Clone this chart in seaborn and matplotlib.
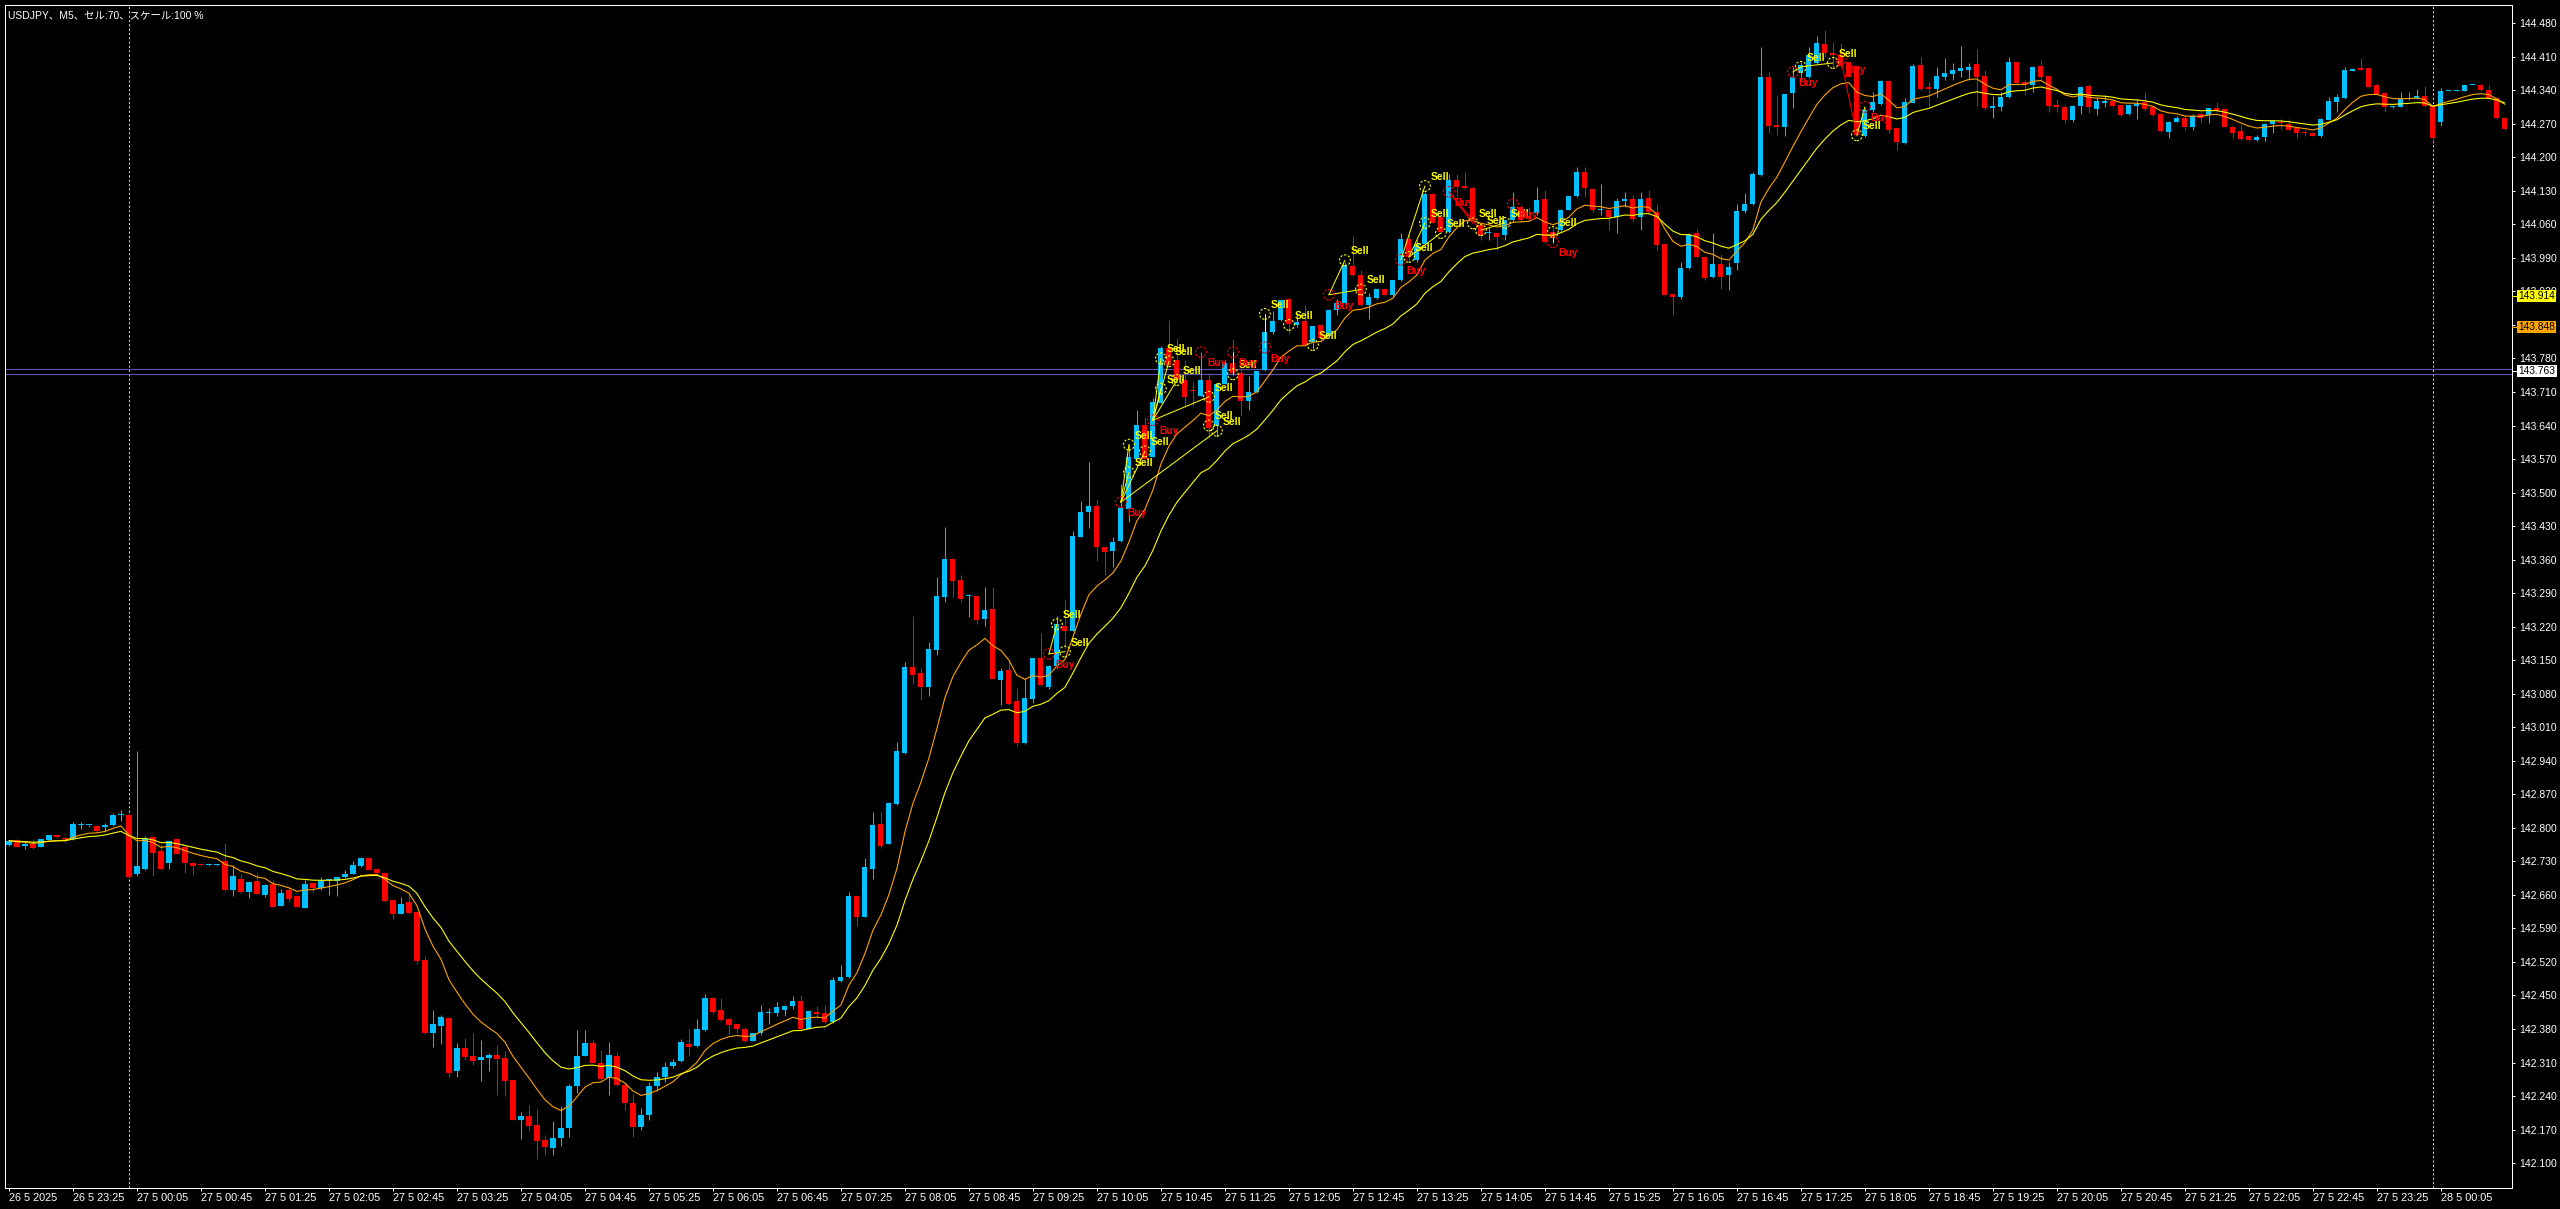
"""
USDJPY M5 candlestick chart (MT-style dark chart) with two moving averages
and Sell/Buy signal markers.
"""

import numpy as np
import pandas as pd
import matplotlib
matplotlib.use("Agg")
import matplotlib.pyplot as plt
import matplotlib.transforms as mtransforms
import seaborn as sns

sns.set_style("dark", {"axes.facecolor": "black", "figure.facecolor": "black",
                       "axes.edgecolor": "white", "text.color": "white",
                       "xtick.color": "white", "ytick.color": "white",
                       "axes.grid": False})
plt.rcParams["font.family"] = ["Liberation Sans", "Noto Sans CJK JP", "DejaVu Sans"]

# ---------------------------------------------------------------------------
# DATA  (bar 0 = 27.05 00:00, one bar = 5 minutes, first bar = 26.05 22:45)
# ---------------------------------------------------------------------------
FIRST_BAR = -15

opens = [
    142.764, 142.775, 142.762, 142.766, 142.761, 142.775, 142.785, 142.779,
    142.776, 142.806, 142.805, 142.804, 142.802, 142.805, 142.826, 142.827,
    142.703, 142.714, 142.780, 142.751, 142.727, 142.776, 142.761, 142.726,
    142.724, 142.722, 142.722, 142.731, 142.670, 142.693, 142.665, 142.688,
    142.660, 142.683, 142.637, 142.670, 142.657, 142.633, 142.684, 142.675,
    142.691, 142.688, 142.697, 142.704, 142.720, 142.736, 142.714, 142.705,
    142.649, 142.621, 142.645, 142.624, 142.524, 142.371, 142.386, 142.403,
    142.293, 142.341, 142.323, 142.316, 142.320, 142.326, 142.319, 142.273,
    142.190, 142.198, 142.180, 142.148, 142.132, 142.153, 142.174, 142.260,
    142.324, 142.350, 142.310, 142.278, 142.324, 142.263, 142.226, 142.176,
    142.200, 142.262, 142.280, 142.302, 142.313, 142.348, 142.344, 142.377,
    142.445, 142.419, 142.401, 142.390, 142.381, 142.355, 142.371, 142.413,
    142.414, 142.420, 142.429, 142.439, 142.381, 142.416, 142.414, 142.394,
    142.480, 142.488, 142.658, 142.614, 142.715, 142.807, 142.767, 142.849,
    142.956, 143.135, 143.124, 143.094, 143.171, 143.282, 143.362, 143.318,
    143.284, 143.285, 143.236, 143.257, 143.109, 143.130, 143.065, 142.977,
    143.069, 143.154, 143.094, 143.138, 143.222, 143.211, 143.408, 143.460,
    143.471, 143.386, 143.378, 143.398, 143.465, 143.571, 143.642, 143.575,
    143.687, 143.801, 143.777, 143.735, 143.715, 143.702, 143.735, 143.640,
    143.727, 143.771, 143.749, 143.692, 143.709, 143.755, 143.835, 143.860,
    143.905, 143.850, 143.858, 143.815, 143.850, 143.826, 143.882, 143.895,
    143.973, 143.954, 143.891, 143.906, 143.924, 143.912, 143.943, 144.030,
    143.985, 144.018, 144.123, 144.075, 144.044, 144.152, 144.140, 144.135,
    144.058, 144.042, 144.042, 144.037, 144.069, 144.097, 144.078, 144.083,
    144.112, 144.044, 144.048, 144.091, 144.119, 144.170, 144.133, 144.090,
    144.090, 144.076, 144.109, 144.112, 144.076, 144.116, 144.086, 144.019,
    143.914, 143.909, 143.968, 144.041, 143.992, 143.950, 143.977, 143.954,
    143.980, 144.087, 144.103, 144.163, 144.368, 144.267, 144.264, 144.335,
    144.375, 144.368, 144.396, 144.436, 144.418, 144.413, 144.399, 144.390,
    144.244, 144.298, 144.311, 144.360, 144.262, 144.229, 144.314, 144.392,
    144.347, 144.342, 144.368, 144.374, 144.380, 144.383, 144.394, 144.369,
    144.303, 144.304, 144.326, 144.399, 144.358, 144.351, 144.390, 144.369,
    144.309, 144.305, 144.277, 144.307, 144.348, 144.301, 144.314, 144.318,
    144.309, 144.290, 144.307, 144.316, 144.304, 144.290, 144.253, 144.274,
    144.282, 144.264, 144.290, 144.288, 144.302, 144.300, 144.264, 144.255,
    144.244, 144.237, 144.243, 144.269, 144.274, 144.270, 144.262, 144.253,
    144.251, 144.244, 144.278, 144.316, 144.323, 144.381, 144.387, 144.386,
    144.350, 144.335, 144.304, 144.306, 144.321, 144.323, 144.329, 144.307,
    144.274, 144.339, 144.339, 144.339, 144.351, 144.351, 144.341, 144.323, 144.283,
]

highs = [
    142.774, 142.776, 142.770, 142.776, 142.777, 142.786, 142.786, 142.782,
    142.812, 142.812, 142.806, 142.805, 142.811, 142.832, 142.837, 142.828,
    142.960, 142.783, 142.783, 142.766, 142.773, 142.777, 142.762, 142.727,
    142.725, 142.723, 142.723, 142.768, 142.723, 142.703, 142.687, 142.705,
    142.682, 142.691, 142.672, 142.678, 142.658, 142.691, 142.685, 142.697,
    142.692, 142.698, 142.712, 142.731, 142.738, 142.737, 142.715, 142.706,
    142.650, 142.655, 142.663, 142.625, 142.532, 142.420, 142.409, 142.404,
    142.350, 142.362, 142.371, 142.357, 142.330, 142.346, 142.335, 142.274,
    142.206, 142.221, 142.212, 142.158, 142.188, 142.219, 142.265, 142.378,
    142.377, 142.357, 142.336, 142.353, 142.331, 142.268, 142.245, 142.215,
    142.270, 142.290, 142.312, 142.318, 142.359, 142.379, 142.401, 142.453,
    142.446, 142.445, 142.402, 142.391, 142.385, 142.372, 142.431, 142.423,
    142.437, 142.430, 142.448, 142.450, 142.419, 142.428, 142.431, 142.488,
    142.514, 142.665, 142.659, 142.736, 142.834, 142.834, 142.854, 142.980,
    143.146, 143.242, 143.133, 143.187, 143.324, 143.429, 143.363, 143.327,
    143.289, 143.286, 143.302, 143.302, 143.133, 143.149, 143.091, 143.113,
    143.155, 143.206, 143.139, 143.242, 143.277, 143.419, 143.482, 143.564,
    143.487, 143.387, 143.408, 143.517, 143.602, 143.673, 143.657, 143.697,
    143.806, 143.861, 143.823, 143.777, 143.731, 143.793, 143.749, 143.728,
    143.777, 143.820, 143.760, 143.744, 143.754, 143.866, 143.880, 143.905,
    143.906, 143.874, 143.891, 143.848, 143.851, 143.883, 143.905, 143.982,
    144.035, 143.964, 143.916, 143.925, 143.925, 143.944, 144.041, 144.041,
    144.027, 144.128, 144.124, 144.076, 144.166, 144.166, 144.170, 144.140,
    144.062, 144.055, 144.043, 144.070, 144.128, 144.100, 144.097, 144.138,
    144.131, 144.055, 144.093, 144.120, 144.180, 144.180, 144.134, 144.145,
    144.091, 144.114, 144.128, 144.121, 144.128, 144.131, 144.103, 144.020,
    143.915, 143.982, 144.042, 144.051, 143.993, 144.041, 143.999, 143.982,
    144.103, 144.126, 144.170, 144.431, 144.378, 144.330, 144.333, 144.389,
    144.398, 144.431, 144.453, 144.466, 144.441, 144.438, 144.400, 144.391,
    144.302, 144.337, 144.361, 144.361, 144.263, 144.323, 144.395, 144.410,
    144.358, 144.389, 144.408, 144.397, 144.432, 144.397, 144.427, 144.383,
    144.328, 144.337, 144.410, 144.400, 144.361, 144.390, 144.403, 144.370,
    144.321, 144.309, 144.309, 144.347, 144.353, 144.326, 144.330, 144.319,
    144.310, 144.310, 144.321, 144.337, 144.305, 144.291, 144.275, 144.286,
    144.288, 144.291, 144.295, 144.303, 144.316, 144.301, 144.265, 144.267,
    144.245, 144.246, 144.271, 144.277, 144.279, 144.281, 144.263, 144.256,
    144.253, 144.283, 144.326, 144.333, 144.389, 144.386, 144.408, 144.387,
    144.355, 144.336, 144.308, 144.337, 144.337, 144.342, 144.349, 144.308,
    144.344, 144.340, 144.341, 144.352, 144.352, 144.353, 144.350, 144.324, 144.284,
]

lows = [
    142.763, 142.760, 142.755, 142.755, 142.760, 142.774, 142.779, 142.771,
    142.775, 142.798, 142.801, 142.792, 142.792, 142.804, 142.814, 142.697,
    142.700, 142.713, 142.700, 142.713, 142.714, 142.745, 142.705, 142.702,
    142.721, 142.721, 142.721, 142.669, 142.658, 142.664, 142.654, 142.661,
    142.655, 142.634, 142.636, 142.645, 142.634, 142.632, 142.665, 142.670,
    142.660, 142.658, 142.696, 142.703, 142.718, 142.711, 142.704, 142.645,
    142.609, 142.620, 142.621, 142.516, 142.370, 142.343, 142.349, 142.280,
    142.279, 142.316, 142.305, 142.272, 142.293, 142.242, 142.240, 142.189,
    142.150, 142.166, 142.109, 142.117, 142.117, 142.136, 142.155, 142.246,
    142.323, 142.309, 142.274, 142.242, 142.262, 142.210, 142.155, 142.170,
    142.190, 142.250, 142.270, 142.298, 142.311, 142.324, 142.343, 142.376,
    142.412, 142.397, 142.370, 142.371, 142.352, 142.354, 142.368, 142.390,
    142.408, 142.408, 142.422, 142.378, 142.380, 142.403, 142.393, 142.393,
    142.479, 142.487, 142.595, 142.613, 142.693, 142.758, 142.766, 142.848,
    142.955, 143.100, 143.067, 143.075, 143.160, 143.271, 143.282, 143.271,
    143.240, 143.225, 143.222, 143.110, 143.056, 143.057, 142.971, 142.974,
    143.061, 143.097, 143.090, 143.132, 143.176, 143.210, 143.407, 143.427,
    143.358, 143.327, 143.345, 143.397, 143.438, 143.570, 143.570, 143.574,
    143.686, 143.764, 143.733, 143.681, 143.681, 143.701, 143.613, 143.618,
    143.726, 143.744, 143.659, 143.673, 143.708, 143.754, 143.831, 143.858,
    143.832, 143.846, 143.807, 143.799, 143.815, 143.825, 143.870, 143.894,
    143.953, 143.890, 143.863, 143.905, 143.911, 143.911, 143.942, 143.982,
    143.982, 144.017, 144.062, 144.043, 144.043, 144.117, 144.134, 144.065,
    144.027, 144.027, 144.006, 144.027, 144.065, 144.065, 144.069, 144.079,
    144.022, 144.020, 144.047, 144.090, 144.118, 144.117, 144.086, 144.079,
    144.048, 144.041, 144.097, 144.065, 144.048, 144.083, 144.006, 143.911,
    143.870, 143.905, 143.967, 143.989, 143.943, 143.947, 143.926, 143.923,
    143.964, 144.083, 144.100, 144.162, 144.250, 144.246, 144.244, 144.302,
    144.360, 144.366, 144.395, 144.410, 144.389, 144.389, 144.367, 144.245,
    144.243, 144.295, 144.309, 144.250, 144.215, 144.228, 144.313, 144.341,
    144.307, 144.326, 144.361, 144.361, 144.368, 144.361, 144.307, 144.298,
    144.282, 144.296, 144.323, 144.351, 144.330, 144.337, 144.361, 144.295,
    144.295, 144.272, 144.274, 144.291, 144.293, 144.289, 144.304, 144.306,
    144.287, 144.289, 144.281, 144.298, 144.287, 144.253, 144.241, 144.273,
    144.258, 144.257, 144.272, 144.272, 144.295, 144.263, 144.241, 144.237,
    144.235, 144.235, 144.234, 144.250, 144.260, 144.257, 144.241, 144.245,
    144.244, 144.243, 144.277, 144.295, 144.322, 144.380, 144.382, 144.344,
    144.332, 144.297, 144.302, 144.305, 144.319, 144.321, 144.306, 144.234,
    144.265, 144.338, 144.338, 144.338, 144.350, 144.339, 144.322, 144.281, 144.258,
]

closes = [
    142.773, 142.761, 142.766, 142.757, 142.776, 142.785, 142.780, 142.777,
    142.808, 142.807, 142.805, 142.793, 142.806, 142.827, 142.827, 142.698,
    142.720, 142.778, 142.748, 142.714, 142.772, 142.745, 142.726, 142.720,
    142.722, 142.722, 142.722, 142.670, 142.700, 142.665, 142.686, 142.662,
    142.681, 142.635, 142.663, 142.651, 142.635, 142.683, 142.675, 142.688,
    142.691, 142.697, 142.704, 142.722, 142.736, 142.712, 142.705, 142.647,
    142.620, 142.642, 142.622, 142.521, 142.371, 142.390, 142.404, 142.289,
    142.341, 142.322, 142.314, 142.322, 142.326, 142.318, 142.271, 142.190,
    142.198, 142.178, 142.147, 142.134, 142.152, 142.174, 142.261, 142.324,
    142.350, 142.310, 142.275, 142.326, 142.263, 142.225, 142.176, 142.200,
    142.262, 142.280, 142.300, 142.312, 142.352, 142.343, 142.379, 142.445,
    142.415, 142.398, 142.388, 142.379, 142.355, 142.371, 142.415, 142.415,
    142.426, 142.429, 142.438, 142.379, 142.418, 142.412, 142.394, 142.482,
    142.488, 142.658, 142.613, 142.718, 142.805, 142.763, 142.851, 142.960,
    143.135, 143.119, 143.094, 143.173, 143.285, 143.362, 143.315, 143.277,
    143.286, 143.233, 143.255, 143.111, 143.127, 143.058, 142.977, 143.072,
    143.154, 143.098, 143.138, 143.225, 143.211, 143.409, 143.460, 143.471,
    143.386, 143.376, 143.397, 143.468, 143.575, 143.642, 143.571, 143.689,
    143.801, 143.766, 143.738, 143.700, 143.713, 143.735, 143.635, 143.727,
    143.771, 143.749, 143.692, 143.709, 143.753, 143.835, 143.859, 143.902,
    143.853, 143.856, 143.808, 143.847, 143.822, 143.882, 143.895, 143.975,
    143.954, 143.891, 143.909, 143.924, 143.912, 143.943, 144.030, 143.992,
    144.020, 144.124, 144.063, 144.044, 144.152, 144.138, 144.135, 144.069,
    144.037, 144.044, 144.034, 144.069, 144.097, 144.069, 144.071, 144.110,
    144.023, 144.034, 144.091, 144.119, 144.170, 144.135, 144.090, 144.091,
    144.076, 144.109, 144.112, 144.072, 144.112, 144.086, 144.017, 143.912,
    143.909, 143.968, 144.037, 143.992, 143.947, 143.978, 143.950, 143.971,
    144.087, 144.103, 144.166, 144.368, 144.265, 144.264, 144.332, 144.368,
    144.392, 144.413, 144.438, 144.417, 144.414, 144.390, 144.368, 144.246,
    144.298, 144.316, 144.360, 144.258, 144.232, 144.316, 144.390, 144.342,
    144.342, 144.369, 144.376, 144.383, 144.387, 144.389, 144.368, 144.303,
    144.307, 144.326, 144.399, 144.355, 144.351, 144.389, 144.368, 144.307,
    144.304, 144.277, 144.307, 144.346, 144.304, 144.317, 144.318, 144.307,
    144.288, 144.309, 144.312, 144.300, 144.288, 144.255, 144.274, 144.282,
    144.264, 144.286, 144.283, 144.302, 144.296, 144.264, 144.251, 144.239,
    144.236, 144.243, 144.270, 144.276, 144.272, 144.258, 144.250, 144.250,
    144.244, 144.281, 144.317, 144.326, 144.382, 144.384, 144.383, 144.347,
    144.333, 144.304, 144.306, 144.321, 144.324, 144.328, 144.307, 144.241,
    144.339, 144.339, 144.340, 144.351, 144.351, 144.340, 144.323, 144.282, 144.259,
]

# Sell / Buy signal points (bar, price, kind)
sig_bar = [115, 116, 117, 124, 125, 125, 127, 128, 129, 129, 130, 131, 134, 135,
           135, 136, 138, 138, 142, 142, 145, 148, 150, 152, 154, 159, 160, 162,
           162, 164, 165, 168, 169, 172, 173, 178, 178, 208, 209, 213, 214, 216, 217]
sig_price = [143.163, 143.225, 143.168, 143.480, 143.600, 143.542, 143.586, 143.651,
             143.717, 143.780, 143.774, 143.735, 143.793, 143.700, 143.640, 143.629,
             143.793, 143.747, 143.873, 143.803, 143.850, 143.808, 143.913, 143.985,
             143.924, 143.986, 143.992, 144.140, 144.063, 144.042, 144.128, 144.062,
             144.048, 144.063, 144.102, 144.044, 144.023, 144.378, 144.389, 144.397,
             144.405, 144.246, 144.305]
sig_kind = ["buy", "sell", "sell", "buy", "sell", "sell", "sell", "buy",
            "sell", "sell", "sell", "sell", "buy", "sell", "sell", "sell",
            "buy", "sell", "sell", "buy", "sell", "sell", "buy", "sell",
            "sell", "buy", "sell", "sell", "sell", "sell", "buy", "sell",
            "sell", "sell", "buy", "sell", "buy", "buy", "sell", "sell",
            "buy", "sell", "buy"]

# zigzag links between signal points (index pairs) and their colour
seg_from = [0, 0, 3, 3, 3, 3, 7, 7, 7, 7, 7, 16, 19, 22, 22, 25, 26, 26, 30, 30, 32, 35, 37, 38, 40, 41]
seg_to   = [1, 2, 4, 5, 6, 15, 8, 9, 10, 11, 13, 17, 18, 23, 24, 27, 28, 29, 31, 32, 33, 36, 38, 39, 41, 42]
seg_red  = [0, 0, 0, 0, 0, 0, 0, 0, 0, 0, 0, 0, 0, 0, 0, 0, 0, 0, 1, 1, 0, 0, 0, 0, 1, 0]

xtick_labels = ["26 5 2025", "26 5 23:25",
                "27 5 00:05", "27 5 00:45", "27 5 01:25", "27 5 02:05", "27 5 02:45",
                "27 5 03:25", "27 5 04:05", "27 5 04:45", "27 5 05:25", "27 5 06:05",
                "27 5 06:45", "27 5 07:25", "27 5 08:05", "27 5 08:45", "27 5 09:25",
                "27 5 10:05", "27 5 10:45", "27 5 11:25", "27 5 12:05", "27 5 12:45",
                "27 5 13:25", "27 5 14:05", "27 5 14:45", "27 5 15:25", "27 5 16:05",
                "27 5 16:45", "27 5 17:25", "27 5 18:05", "27 5 18:45", "27 5 19:25",
                "27 5 20:05", "27 5 20:45", "27 5 21:25", "27 5 22:05", "27 5 22:45",
                "27 5 23:25", "28 5 00:05"]

day_breaks = [0, 288]                       # 27.05 00:00 and 28.05 00:00
hlines = [143.757, 143.748]
price_tags = [143.910, 143.845, 143.753]
price_tag_text = ["143.914", "143.848", "143.763"]
price_tag_colors = ["#FFFF00", "#FFA500", "#FFFFFF"]

BLUE, RED = "#00BFFF", "#FF0000"
ORANGE, YELLOW = "#FFA500", "#FFFF00"
PX = 0.72  # one pixel in points at dpi=100

# ---------------------------------------------------------------------------
# FRAME
# ---------------------------------------------------------------------------
df = pd.DataFrame({"o": opens, "h": highs, "l": lows, "c": closes})
df["bar"] = np.arange(FIRST_BAR, FIRST_BAR + len(df))
df["up"] = df.c >= df.o
df["ma_fast"] = df.c.ewm(span=10, adjust=False).mean()
df["ma_slow"] = df.c.ewm(span=20, adjust=False).mean()

sig = pd.DataFrame({"bar": sig_bar, "price": sig_price, "kind": sig_kind})

fig = plt.figure(figsize=(25.6, 12.09), dpi=100)
ax = fig.add_axes([5 / 2560, 1 - 1188 / 1209, 2507 / 2560, 1183 / 1209])
ax.set_facecolor("black")

# candles
for up, color in [(True, BLUE), (False, RED)]:
    d = df[df.up == up]
    ax.vlines(d.bar, d.l, d.h, color=color, lw=PX, zorder=2)
    body = (d.c - d.o).abs().clip(lower=0.0021)
    ax.bar(d.bar, body, bottom=d[["o", "c"]].min(axis=1), width=0.64,
           color=color, lw=0, zorder=3)

# moving averages
sns.lineplot(data=df, x="bar", y="ma_fast", color=ORANGE, lw=PX * 1.1, ax=ax, zorder=4)
sns.lineplot(data=df, x="bar", y="ma_slow", color=YELLOW, lw=PX * 1.1, ax=ax, zorder=4)

# day separators + horizontal levels
for b in day_breaks:
    ax.axvline(b, color="#D0D0D0", lw=PX, dashes=(3 * PX, 3 * PX), zorder=1)
for h in hlines:
    ax.axhline(h, color="#5E52B0", lw=PX * 1.2, zorder=1)

# zigzag links
for a, b, r in zip(seg_from, seg_to, seg_red):
    ax.plot([sig_bar[a], sig_bar[b]], [sig_price[a], sig_price[b]],
            color=RED if r else YELLOW, lw=PX, zorder=5)

# signal circles + labels
for kind, color in [("sell", YELLOW), ("buy", RED)]:
    s = sig[sig.kind == kind]
    ax.scatter(s.bar, s.price, s=60, facecolors="none", edgecolors=color,
               linewidths=0.8, linestyle=(0, (2, 1.5)), zorder=6)
    for _, row in s.iterrows():
        if kind == "sell":
            ax.annotate("Sell", (row.bar, row.price), xytext=(4.3, 6.5),
                        textcoords="offset points", color=YELLOW, fontsize=7.4,
                        fontweight="bold", va="center", ha="left", zorder=7)
        else:
            ax.annotate("Buy", (row.bar, row.price), xytext=(4.3, -8),
                        textcoords="offset points", color=RED, fontsize=7.4,
                        fontweight="bold", va="center", ha="left", zorder=7)

# ---------------------------------------------------------------------------
# AXES
# ---------------------------------------------------------------------------
ax.set_xlim(-15.5, 297.9)
ax.set_ylim(142.048, 144.518)
ax.set_xlabel("")
ax.set_ylabel("")

ax.set_xticks([-15] + list(range(-7, 290, 8)))
ax.set_xticklabels(xtick_labels, family=["Liberation Sans Narrow", "Liberation Sans"])
ax.tick_params(axis="x", bottom=True, direction="out", length=3 * PX, width=PX,
               pad=1.5, labelsize=7.8, colors="white")
for lab in ax.get_xticklabels():
    lab.set_ha("left")

yt = np.round(np.arange(142.100, 144.481, 0.07), 3)
ax.yaxis.tick_right()
ax.set_yticks(yt)
ax.set_yticklabels([f"{v:.3f}" for v in yt])
ax.tick_params(axis="y", right=True, left=False, direction="out", length=3 * PX,
               width=PX, pad=3, labelsize=7.5, colors="white")

for sp in ax.spines.values():
    sp.set_color("white")
    sp.set_linewidth(PX)
    sp.set_visible(True)

# price tags on the right scale
trans = mtransforms.blended_transform_factory(ax.transAxes, ax.transData)
for p, txt, fc in zip(price_tags, price_tag_text, price_tag_colors):
    ax.plot([1.0, 1.0022], [p, p], transform=trans, color=fc, lw=PX, clip_on=False, zorder=9)
    ax.text(1.0026, p, txt, transform=trans, ha="left", va="center", fontsize=7.4,
            color="black", zorder=10, clip_on=False,
            bbox=dict(boxstyle="square,pad=0.1", fc=fc, ec="none"))

fig.text(8 / 2560, 1 - 15 / 1209, "USDJPY、M5、セル:70、スケール:100 %",
         color="white", fontsize=7.5, ha="left", va="center")

fig.savefig("out.png", dpi=100, facecolor="black")
